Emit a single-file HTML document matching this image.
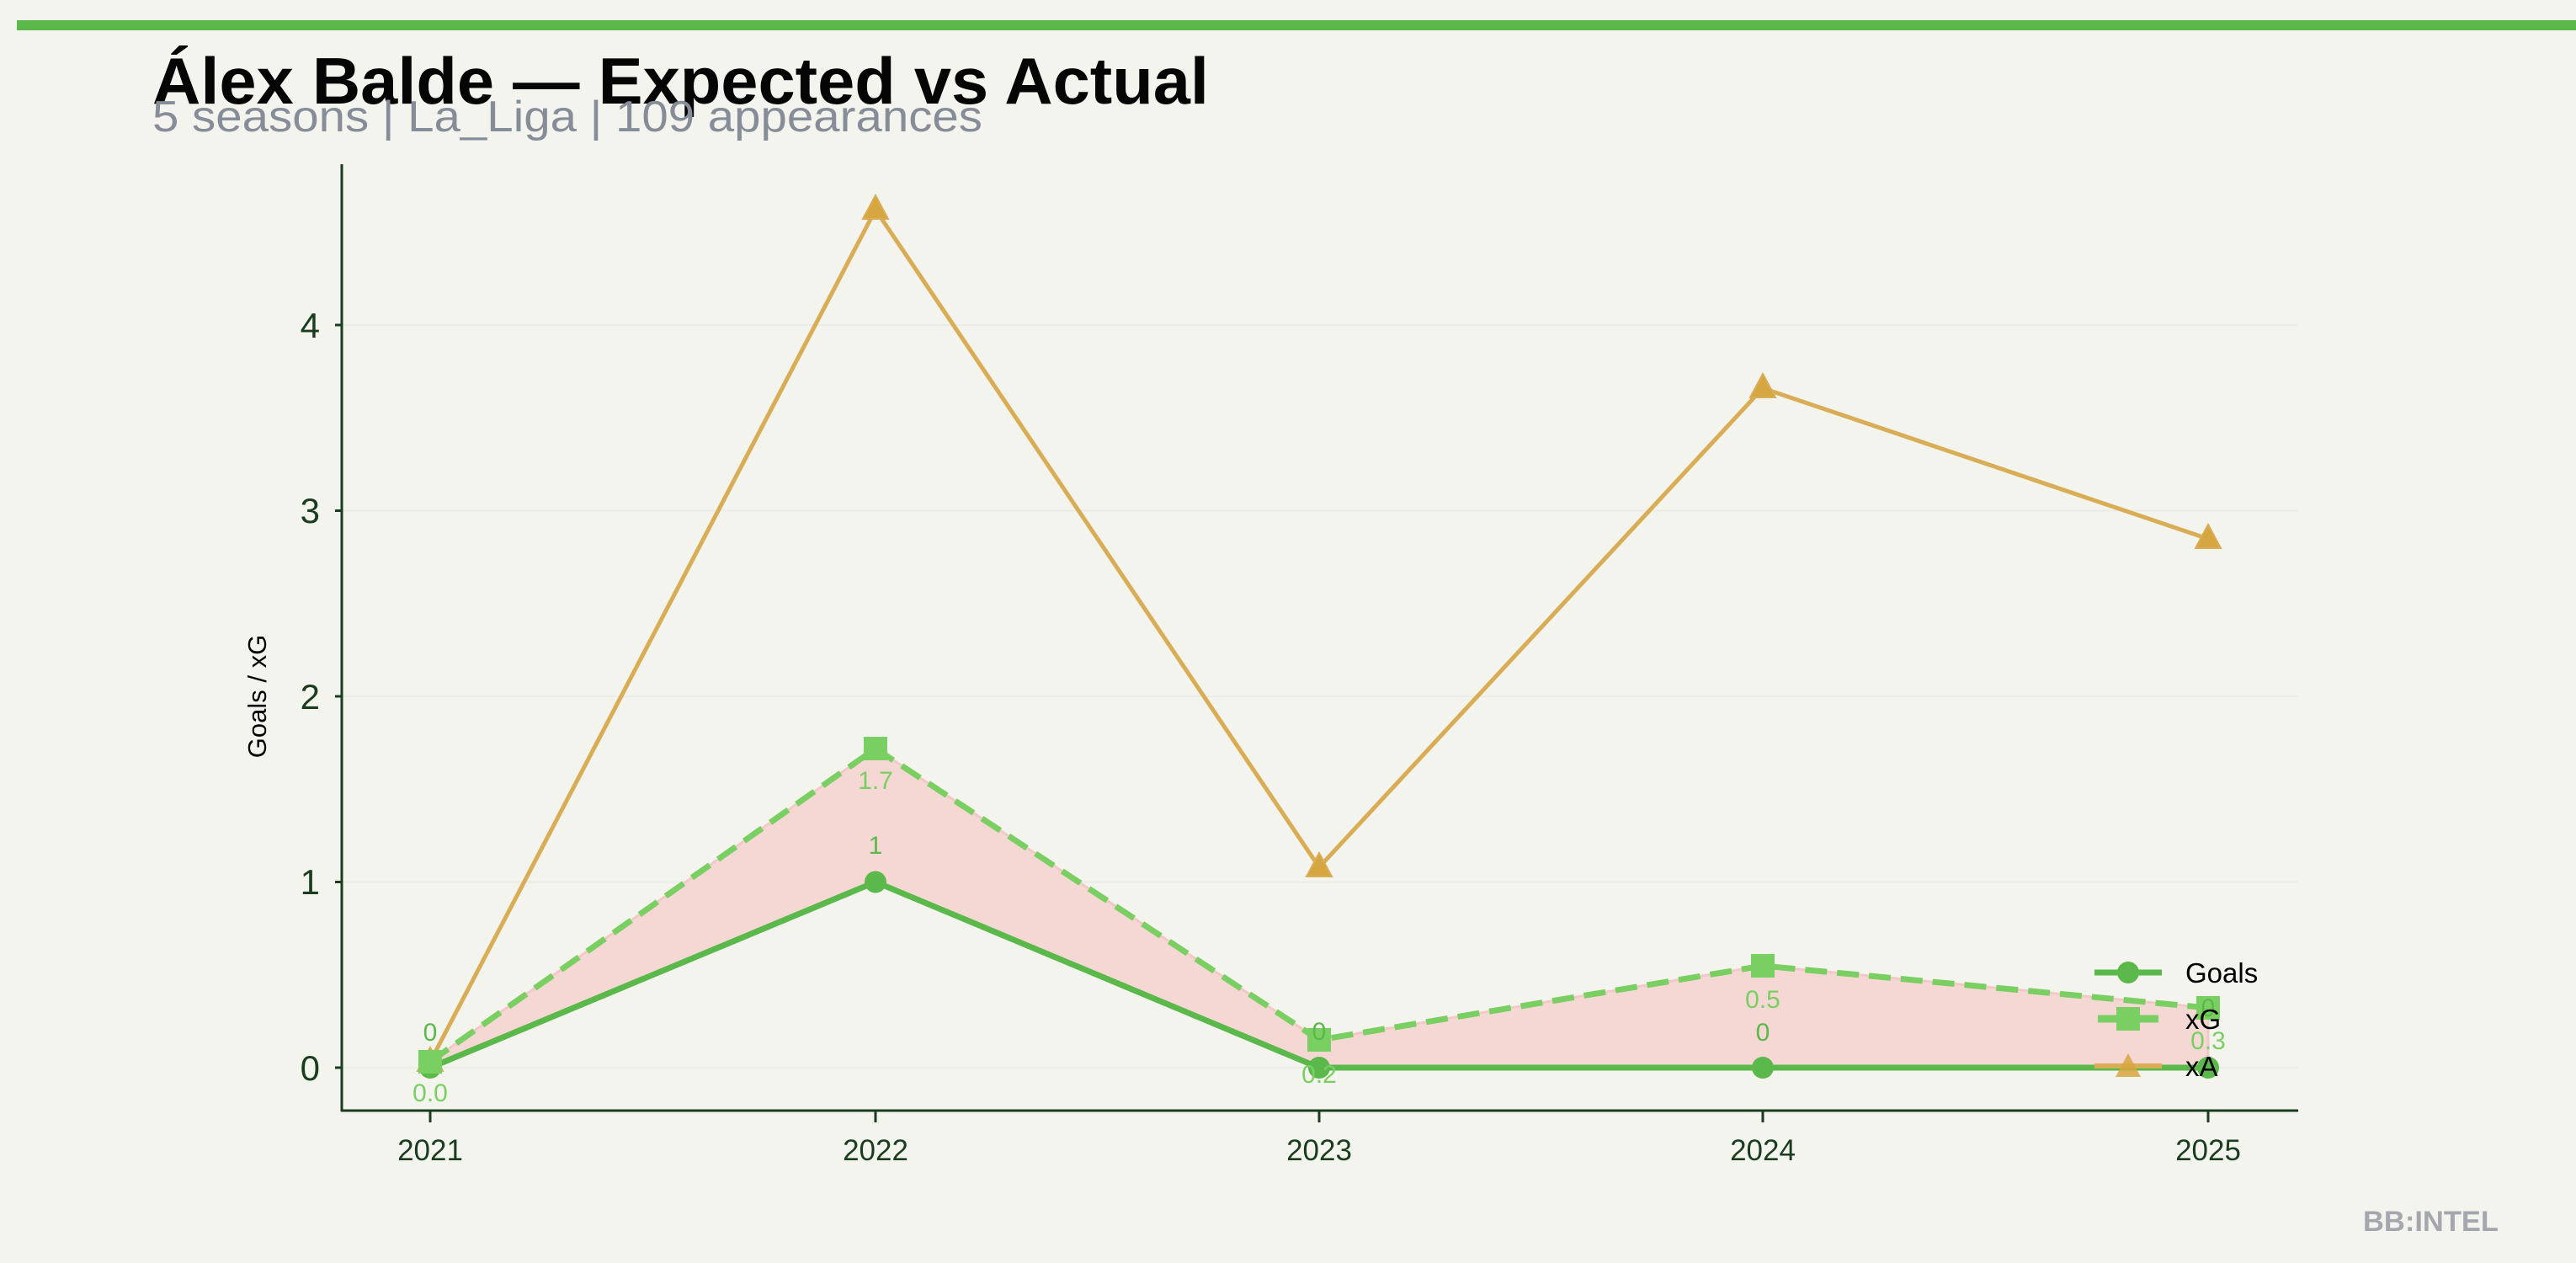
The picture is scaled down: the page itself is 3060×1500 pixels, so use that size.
<!DOCTYPE html>
<html><head><meta charset="utf-8"><style>
html,body{margin:0;padding:0;background:#f4f4ee;}
svg{display:block;}
text{font-family:"Liberation Sans","DejaVu Sans",sans-serif;}
</style></head><body>
<svg width="3060" height="1500" viewBox="0 0 3060 1500" xmlns="http://www.w3.org/2000/svg">
<rect width="3060" height="1500" fill="#f4f4ee"/>
<rect x="20" y="24" width="3040" height="12" fill="#5ab94a"/>
<text x="181" y="123" font-size="78" font-weight="bold" fill="#050505" textLength="1255" lengthAdjust="spacingAndGlyphs">Álex Balde — Expected vs Actual</text>
<text x="181" y="156" font-size="52" fill="#868c98" textLength="986" lengthAdjust="spacingAndGlyphs">5 seasons | La_Liga | 109 appearances</text>
<!-- grid -->
<g stroke="#ecede4" stroke-width="2">
<line x1="406" x2="2730" y1="1268" y2="1268"/><line x1="406" x2="2730" y1="1047.5" y2="1047.5"/>
<line x1="406" x2="2730" y1="827" y2="827"/><line x1="406" x2="2730" y1="606.5" y2="606.5"/>
<line x1="406" x2="2730" y1="386" y2="386"/>
</g>
<!-- fill -->
<polygon points="511,1268 1040,1047.5 1567,1268 2094,1268 2623,1268 2623,1197 2094,1147 1567,1235 1040,889 511,1261" fill="#f5d8d4" stroke="#f2c9c6" stroke-width="3"/>
<!-- xA -->
<polyline points="511,1261 1040,249 1567,1030 2094,461 2623,640" fill="none" stroke="#d9ad55" stroke-width="5"/>
<g fill="#d6a640" stroke="#d9ad55" stroke-width="2">
<polygon points="511,1244 526,1272 496,1272"/><polygon points="1040,232 1055,260 1025,260"/>
<polygon points="1567,1013 1582,1041 1552,1041"/><polygon points="2094,444 2109,472 2079,472"/>
<polygon points="2623,623 2638,651 2608,651"/></g>
<!-- Goals -->
<polyline points="511,1268 1040,1047.5 1567,1268 2094,1268 2623,1268" fill="none" stroke="#5ab94a" stroke-width="7"/>
<g fill="#5ab94a"><circle cx="511" cy="1268" r="13"/><circle cx="1040" cy="1047.5" r="13"/><circle cx="1567" cy="1268" r="13"/><circle cx="2094" cy="1268" r="13"/><circle cx="2623" cy="1268" r="13"/></g>
<!-- xG -->
<polyline points="511,1261 1040,889 1567,1235 2094,1147 2623,1197" fill="none" stroke="#7acf62" stroke-width="7" stroke-dasharray="26,12"/>
<g fill="#7acf62"><rect x="497" y="1247" width="28" height="28"/><rect x="1026" y="875" width="28" height="28"/><rect x="1553" y="1221" width="28" height="28"/><rect x="2080" y="1133" width="28" height="28"/><rect x="2609" y="1183" width="28" height="28"/></g>
<!-- annotations -->
<g font-size="30" text-anchor="middle" fill="#5ab94a">
<text x="511" y="1236">0</text><text x="1040" y="1014">1</text><text x="1567" y="1235">0</text><text x="2094" y="1236">0</text><text x="2623" y="1207">0</text></g>
<g font-size="30" text-anchor="middle" fill="#7acf62">
<text x="511" y="1308">0.0</text><text x="1040" y="937">1.7</text><text x="1567" y="1286">0.2</text><text x="2094" y="1197">0.5</text><text x="2623" y="1246">0.3</text></g>
<!-- axes -->
<g stroke="#1a3d1f" stroke-width="3">
<line x1="406" y1="195" x2="406" y2="1320"/><line x1="405" y1="1319" x2="2730" y2="1319"/>
<line x1="398" x2="406" y1="1268" y2="1268"/><line x1="398" x2="406" y1="1047.5" y2="1047.5"/><line x1="398" x2="406" y1="827" y2="827"/><line x1="398" x2="406" y1="606.5" y2="606.5"/><line x1="398" x2="406" y1="386" y2="386"/>
<line x1="511" x2="511" y1="1319" y2="1333"/><line x1="1040" x2="1040" y1="1319" y2="1333"/><line x1="1567" x2="1567" y1="1319" y2="1333"/><line x1="2094" x2="2094" y1="1319" y2="1333"/><line x1="2623" x2="2623" y1="1319" y2="1333"/>
</g>
<g font-size="42" fill="#1a3d1f" text-anchor="end">
<text x="380" y="1283">0</text><text x="380" y="1062">1</text><text x="380" y="842">2</text><text x="380" y="621">3</text><text x="380" y="401">4</text></g>
<g font-size="35" fill="#1a3d1f" text-anchor="middle">
<text x="511" y="1378">2021</text><text x="1040" y="1378">2022</text><text x="1567" y="1378">2023</text><text x="2094" y="1378">2024</text><text x="2623" y="1378">2025</text></g>
<text transform="translate(316,827) rotate(-90)" font-size="31" text-anchor="middle" fill="#000">Goals / xG</text>
<!-- legend -->
<line x1="2488" x2="2568" y1="1155" y2="1155" stroke="#5ab94a" stroke-width="7"/><circle cx="2528" cy="1155" r="13" fill="#5ab94a"/>
<line x1="2492" x2="2564" y1="1210" y2="1210" stroke="#7acf62" stroke-width="9"/><rect x="2514" y="1196" width="28" height="28" fill="#7acf62"/>
<line x1="2488" x2="2568" y1="1266" y2="1266" stroke="#d9ad55" stroke-width="6"/><polygon points="2528,1251 2543,1279 2513,1279" fill="#d6a640" opacity="0.85"/>
<g font-size="33" fill="#000"><text x="2596" y="1167">Goals</text><text x="2596" y="1222">xG</text><text x="2596" y="1278">xA</text></g>
<text x="2807" y="1462" font-size="34" font-weight="bold" fill="#a4a8ae" textLength="161" lengthAdjust="spacingAndGlyphs">BB:INTEL</text>
</svg>
</body></html>
